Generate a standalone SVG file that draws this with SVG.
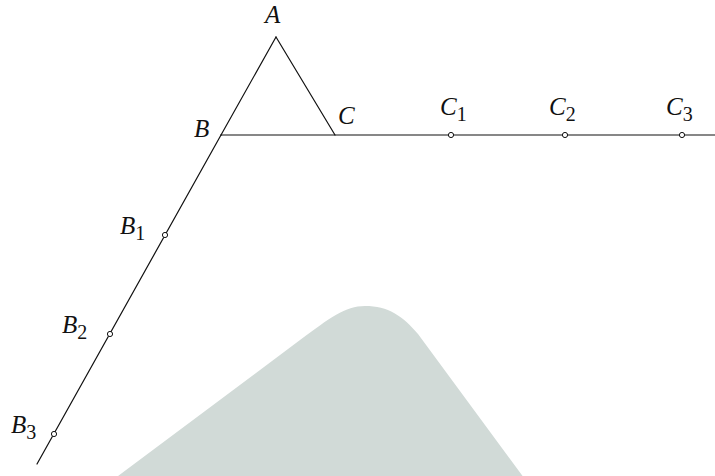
<svg xmlns="http://www.w3.org/2000/svg" width="715" height="476" viewBox="0 0 715 476">
<style>
.ln{stroke:#111;stroke-width:1.2;fill:none;stroke-linecap:round}
.pt{fill:#fff;stroke:#111;stroke-width:1}
text{font-family:'Liberation Serif','Times New Roman',Times,serif;font-style:italic;font-size:25px;fill:#111}
.sb{font-style:normal;font-size:20px}
</style>
<rect width="715" height="476" fill="#fff"/>
<g id="background-shape">
<path d="M 110 482 L 300 340 C 330 318 345 306 365 306 C 388 306 403 316 418 334 L 527 482 Z" fill="#d1dad7"/>
</g>
<g id="connectors">
<line class="ln" x1="221" y1="135" x2="276" y2="37"/>
<line class="ln" x1="276" y1="37" x2="335" y2="135"/>
<line class="ln" x1="221" y1="135" x2="715" y2="135"/>
<line class="ln" x1="221" y1="135" x2="37" y2="464"/>
</g>
<g id="A"><text x="265" y="23">A</text></g>
<g id="B"><text x="194" y="137">B</text></g>
<g id="C"><text x="338" y="124">C</text></g>
<g id="C1"><circle class="pt" cx="451" cy="135" r="2.6"/><text x="440" y="115">C<tspan class="sb" dy="6">1</tspan></text></g>
<g id="C2"><circle class="pt" cx="565" cy="135" r="2.6"/><text x="549" y="115">C<tspan class="sb" dy="6">2</tspan></text></g>
<g id="C3"><circle class="pt" cx="682" cy="135" r="2.6"/><text x="666" y="115">C<tspan class="sb" dy="6">3</tspan></text></g>
<g id="B1"><circle class="pt" cx="165" cy="235" r="2.6"/><text x="120" y="234">B<tspan class="sb" dy="6">1</tspan></text></g>
<g id="B2"><circle class="pt" cx="110" cy="334" r="2.6"/><text x="62" y="333">B<tspan class="sb" dy="6">2</tspan></text></g>
<g id="B3"><circle class="pt" cx="54" cy="434" r="2.6"/><text x="11" y="433">B<tspan class="sb" dy="6">3</tspan></text></g>
</svg>
